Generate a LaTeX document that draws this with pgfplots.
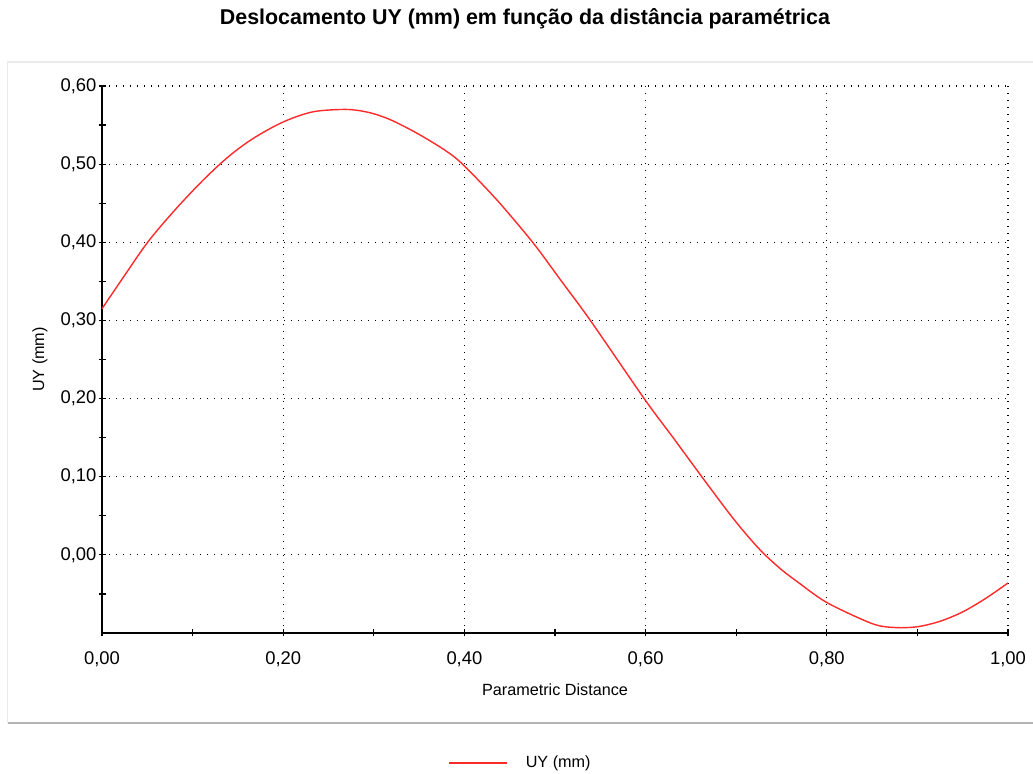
\documentclass[border=0pt]{standalone}
\usepackage{fontspec}
\setmainfont{Liberation Sans}
\usepackage{pgfplots}
\pgfplotsset{compat=1.18}
\definecolor{framegray}{HTML}{EBEBEB}
\definecolor{shadowgray}{HTML}{B4B4B4}
\definecolor{curvered}{HTML}{FF2A2A}
\begin{document}
\begin{tikzpicture}
\useasboundingbox (0,0) rectangle (516.5pt,387pt);
\fill[white] (0,0) rectangle (516.5pt,387pt);
\draw[framegray, line width=0.8pt] (3.8pt,25.5pt) -- (3.8pt,356pt) -- (530pt,356pt);
\draw[shadowgray, line width=1.2pt] (3.8pt,25.5pt) -- (530pt,25.5pt);
\node[font=\bfseries\fontsize{10.7}{12}\selectfont] at (262.5pt,377.5pt) {Deslocamento UY (mm) em função da distância paramétrica};
\begin{axis}[
  scale only axis,
  width=453pt, height=273.5pt,
  at={(51pt,70.5pt)}, anchor=south west,
  xmin=0, xmax=1, ymin=-0.1, ymax=0.6,
  axis lines=left,
  axis line style={-, black, line width=0.7pt},
  xtick={0,0.2,0.4,0.6,0.8,1.0},
  ytick={0,0.1,0.2,0.3,0.4,0.5,0.6},
  minor xtick={0.1,0.3,0.5,0.7,0.9},
  minor ytick={-0.05,0.05,0.15,0.25,0.35,0.45,0.55},
  tick align=center,
  major tick length=3.5pt,
  minor tick length=3.5pt,
  tick style={black, line width=0.6pt},
  grid=major,
  major grid style={black, line width=0.6pt, dash pattern=on 0.6pt off 2.9pt},
  /pgf/number format/.cd, fixed, fixed zerofill, precision=2, use comma, assume math mode=true,
  /pgfplots/.cd,
  ticklabel style={font=\fontsize{9.2}{11}\selectfont},
  xticklabel style={yshift=-4pt},
  yticklabel style={xshift=2.5pt},
  xlabel={Parametric Distance},
  ylabel={UY (mm)},
  every axis x label/.style={at={(axis description cs:0.5,0)}, anchor=center, yshift=-28.5pt, font=\fontsize{8.1}{10}\selectfont},
  every axis y label/.style={at={(axis description cs:0,0.5)}, xshift=-31pt, rotate=90, anchor=center, font=\fontsize{8.1}{10}\selectfont},
  legend style={at={(0.463,-0.2377)}, anchor=center, draw=none, fill=none,
    font=\fontsize{8.1}{10}\selectfont},
  legend image code/.code={\draw[#1] (0pt,0pt) -- (29pt,0pt); \path (36pt,0pt);},
  clip=false,
]
\addplot[curvered, line width=0.7pt, smooth, tension=0.5] coordinates {
(0.000,0.315) (0.024,0.356) (0.051,0.401) (0.081,0.442) (0.112,0.480)
(0.140,0.510) (0.167,0.533) (0.200,0.554) (0.233,0.567) (0.270,0.570)
(0.295,0.566) (0.318,0.557) (0.347,0.540) (0.377,0.519) (0.397,0.501)
(0.436,0.454) (0.476,0.399) (0.506,0.352) (0.539,0.300) (0.599,0.199)
(0.631,0.149) (0.662,0.100) (0.693,0.052) (0.712,0.025) (0.730,0.002)
(0.750,-0.019) (0.767,-0.034) (0.800,-0.061) (0.850,-0.088) (0.875,-0.093)
(0.900,-0.092) (0.925,-0.085) (0.950,-0.073) (0.975,-0.056) (1.000,-0.036)
};
\addlegendentry{UY (mm)}
\end{axis}
\end{tikzpicture}
\end{document}
